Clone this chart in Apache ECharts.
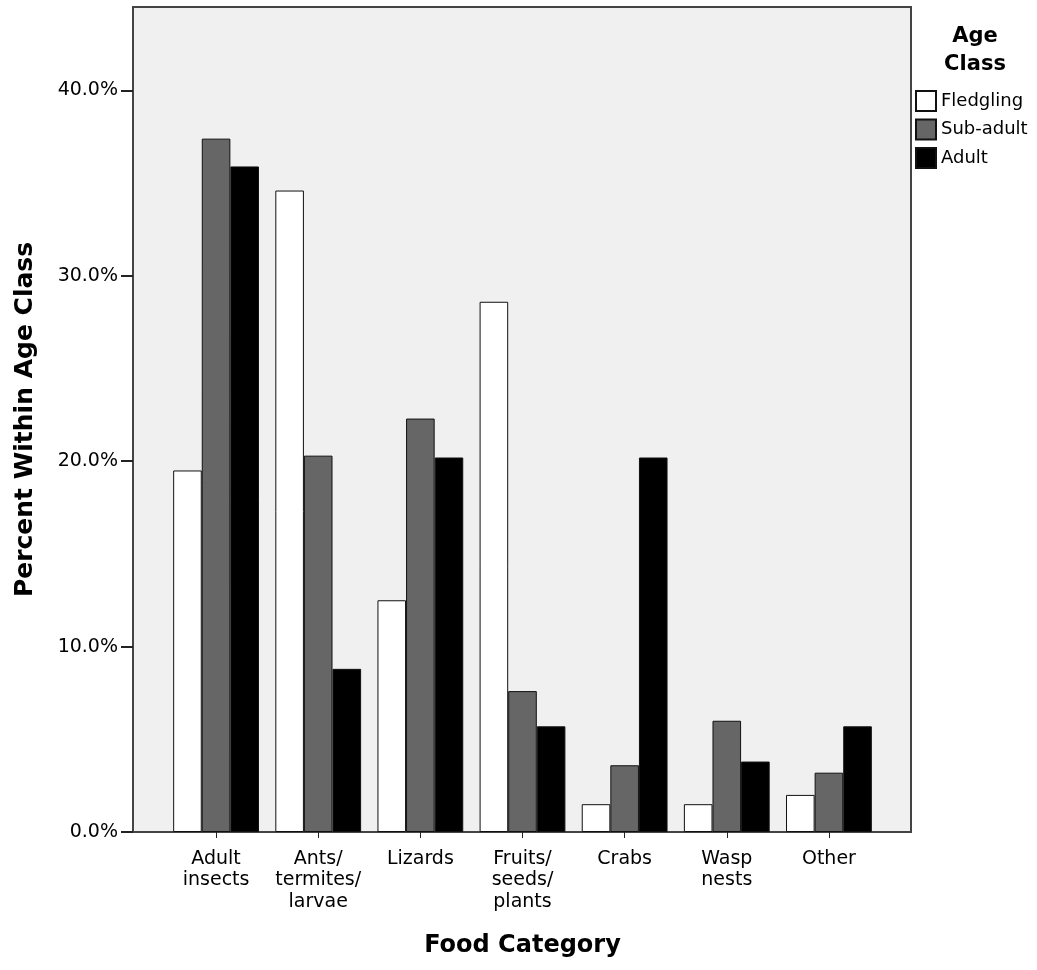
<!DOCTYPE html>
<html><head><meta charset="utf-8">
<script src="https://cdn.jsdelivr.net/npm/echarts@6/dist/echarts.min.js"></script>
<style>html,body{margin:0;padding:0;background:#fff}#c{width:1037px;height:970px}</style>
</head><body><div id="c"></div>
<script>
const categories = ['Adult\ninsects', 'Ants/\ntermites/\nlarvae', 'Lizards', 'Fruits/\nseeds/\nplants', 'Crabs', 'Wasp\nnests', 'Other'];
const fledgling = [19.5, 34.6, 12.5, 28.6, 1.5, 1.5, 2.0];
const subAdult  = [37.4, 20.3, 22.3, 7.6, 3.6, 6.0, 3.2];
const adult     = [35.9, 8.8, 20.2, 5.7, 20.2, 3.8, 5.7];
const yTicks = [0, 10, 20, 30, 40];

const font = 'DejaVu Sans, sans-serif';
const chart = echarts.init(document.getElementById('c'), null, {renderer: 'canvas'});
function bar(name, data, color) {
  return {
    name, type: 'bar', xAxisIndex: 1, yAxisIndex: 1, data,
    barGap: '0%', barCategoryGap: '16%',
    itemStyle: {color, borderColor: '#111', borderWidth: 1},
    emphasis: {disabled: true}
  };
}
chart.setOption({
  animation: false,
  backgroundColor: '#ffffff',
  textStyle: {fontFamily: font},
  title: {
    text: 'Age\nClass', left: 970, top: 18, textAlign: 'center',
    textStyle: {fontFamily: font, fontWeight: 'bold', fontSize: 21, lineHeight: 28, color: '#000'}
  },
  legend: {
    orient: 'vertical', left: 915, top: 90, itemGap: 6.5, itemWidth: 20, itemHeight: 20,
    icon: 'rect', padding: 0,
    textStyle: {fontFamily: font, fontSize: 18, color: '#000'},
    data: ['Fledgling', 'Sub-adult', 'Adult']
  },
  grid: [
    {left: 133, top: 7, width: 778, height: 825, show: true, backgroundColor: '#f0f0f0', borderColor: '#444', borderWidth: 2, z: 0},
    {left: 165, top: 7, width: 715, height: 825}
  ],
  xAxis: [
    {gridIndex: 0, type: 'value', show: false, min: 0, max: 1},
    {
      gridIndex: 1, type: 'category', data: categories,
      name: 'Food Category', nameLocation: 'middle', nameGap: 102,
      nameTextStyle: {fontFamily: font, fontWeight: 'bold', fontSize: 24, color: '#000'},
      axisLine: {show: false},
      axisTick: {show: true, alignWithLabel: true, length: 6, lineStyle: {color: '#222', width: 1}},
      axisLabel: {fontFamily: font, fontSize: 19, color: '#000', lineHeight: 21.5, margin: 16, interval: 0}
    }
  ],
  yAxis: [
    {gridIndex: 0, type: 'value', show: false, min: 0, max: 1},
    {
      gridIndex: 1, type: 'value', min: 0, max: 44.5, interval: 10, offset: 32,
      name: 'Percent Within Age Class', nameLocation: 'middle', nameGap: 95,
      nameTextStyle: {fontFamily: font, fontWeight: 'bold', fontSize: 25, color: '#000'},
      axisLine: {show: false},
      axisTick: {show: true, length: 12, customValues: yTicks, lineStyle: {color: '#222', width: 2}},
      splitLine: {show: false},
      axisLabel: {fontFamily: font, fontSize: 19, color: '#000', margin: 15, customValues: yTicks,
        formatter: v => v.toFixed(1) + '%'}
    }
  ],
  series: [
    bar('Fledgling', fledgling, '#ffffff'),
    bar('Sub-adult', subAdult, '#666666'),
    bar('Adult', adult, '#000000')
  ]
});
</script></body></html>
